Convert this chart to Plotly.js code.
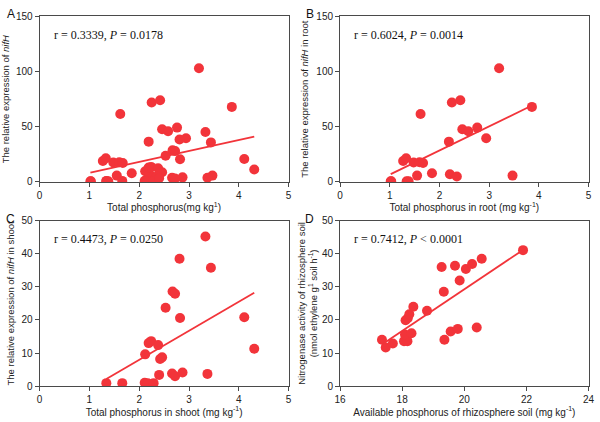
<!DOCTYPE html>
<html>
<head>
<meta charset="utf-8">
<script src="https://cdn.plot.ly/plotly-3.0.1.min.js"></script>
<style>html,body{margin:0;padding:0;background:#fff;}#chart{width:600px;height:422px;}</style>
</head>
<body>
<div id="chart"></div>
<script>
// Panel B: total phosphorus in root vs nifH expression in root
const rootTP   = [1.02, 1.03, 3.20, 2.25, 2.42, 3.86, 1.62, 2.46, 2.58, 2.76, 2.94, 2.19, 1.27, 1.33, 1.48, 1.60, 1.67, 1.85, 1.55, 2.21, 2.35, 3.47, 1.34, 1.38];
const rootNifH = [0.6, 0.6, 103, 72, 74, 68, 61.6, 47.7, 45.9, 49.2, 39.5, 36.5, 19, 21.4, 17.5, 17.8, 17.2, 7.8, 5.7, 6.9, 4.8, 5.7, 0.6, 0.6];
// Panel C: total phosphorus in shoot vs nifH expression in shoot
const shootTP   = [1.34, 1.66, 2.11, 2.17, 2.29, 2.12, 2.19, 2.24, 2.38, 2.46, 2.42, 2.40, 2.66, 2.72, 2.87, 3.37, 2.53, 2.67, 2.72, 2.81, 2.82, 3.33, 3.44, 4.11, 4.31];
const shootNifH = [0.9, 0.9, 1.0, 0.9, 0.9, 9.6, 13, 13.6, 12.4, 8.7, 8.2, 3.4, 3.8, 3.0, 4.1, 3.7, 23.7, 28.6, 27.9, 38.5, 20.6, 45.2, 35.8, 20.8, 11.3];
// Panel A: all samples (root + shoot)
const totalTP   = rootTP.concat(shootTP);
const totalNifH = rootNifH.concat(shootNifH);
// Panel D: available phosphorus vs nitrogenase activity
const availP   = [17.35, 17.47, 17.70, 18.06, 18.17, 18.09, 18.30, 18.11, 18.18, 18.23, 18.36, 18.80, 19.27, 19.34, 19.36, 19.56, 19.70, 19.79, 19.85, 20.05, 20.25, 20.40, 20.56, 21.89];
const nitrogenase = [14.0, 11.7, 12.9, 13.6, 13.6, 15.6, 16.0, 19.9, 20.5, 21.7, 24.0, 22.8, 36.0, 28.5, 14.0, 16.5, 36.4, 17.3, 31.9, 35.4, 36.9, 17.7, 38.5, 41.1];

const statsText = ["r = 0.3339, <i>P</i> = 0.0178", "r = 0.6024, <i>P</i> = 0.0014", "r = 0.4473, <i>P</i> = 0.0250", "r = 0.7412, <i>P</i> < 0.0001"];
const panelLetters = ["A", "B", "C", "D"];

const red = "#f2343a";

function fit(xs, ys) {
  const n = xs.length;
  const mx = xs.reduce((a, b) => a + b, 0) / n;
  const my = ys.reduce((a, b) => a + b, 0) / n;
  let sxy = 0, sxx = 0;
  for (let i = 0; i < n; i++) { sxy += (xs[i] - mx) * (ys[i] - my); sxx += (xs[i] - mx) ** 2; }
  const b = sxy / sxx, a = my - b * mx;
  const x0 = Math.min(...xs), x1 = Math.max(...xs);
  return { x: [x0, x1], y: [a + b * x0, a + b * x1] };
}

const panels = [
  { x: totalTP, y: totalNifH, xa: "x", ya: "y" },
  { x: rootTP, y: rootNifH, xa: "x2", ya: "y2" },
  { x: shootTP, y: shootNifH, xa: "x3", ya: "y3" },
  { x: availP, y: nitrogenase, xa: "x4", ya: "y4" }
];

const traces = [];
panels.forEach(p => {
  const f = fit(p.x, p.y);
  traces.push({ x: f.x, y: f.y, xaxis: p.xa, yaxis: p.ya, mode: "lines", line: { color: red, width: 1.8 }, hoverinfo: "skip" });
  traces.push({ x: p.x, y: p.y, xaxis: p.xa, yaxis: p.ya, mode: "markers", marker: { color: red, size: 10, line: { width: 0 } } });
});

const axCol = "#4a4a4a";
function axis(extra) {
  return Object.assign({
    showline: true, linecolor: axCol, linewidth: 1, mirror: true,
    ticks: "outside", ticklen: 4, tickcolor: axCol, tickwidth: 1,
    showgrid: false, zeroline: false, automargin: false,
    tickfont: { family: "Liberation Sans, Arial", size: 10, color: "#222" },
    fixedrange: true
  }, extra);
}
const titleFont = { family: "Liberation Sans, Arial", size: 10, color: "#222" };
const yTitleFont = { family: "Liberation Sans, Arial", size: 9.5, color: "#222" };

const L = [0.066, 0.481], R = [0.5667, 0.981];
const T = [0.569, 0.961], B = [0.085, 0.477];

const layout = {
  width: 600, height: 422,
  margin: { l: 0, r: 0, t: 0, b: 0 },
  paper_bgcolor: "#fff", plot_bgcolor: "#fff",
  showlegend: false,
  xaxis: axis({ domain: L, anchor: "y", range: [0, 5], dtick: 1, title: { text: "Total phosphorus(mg kg<sup>1</sup>)", font: titleFont, standoff: 4 } }),
  yaxis: axis({ domain: T, anchor: "x", range: [0, 150], dtick: 50, title: { text: "The relative expression of <i>nifH</i>", font: yTitleFont, standoff: 5 } }),
  xaxis2: axis({ domain: R, anchor: "y2", range: [0, 5], dtick: 1, title: { text: "Total phosphorus in root (mg kg<sup>-1</sup>)", font: titleFont, standoff: 4 } }),
  yaxis2: axis({ domain: T, anchor: "x2", range: [0, 150], dtick: 50, title: { text: "The relative expression of <i>nifH</i> in root", font: yTitleFont, standoff: 5 } }),
  xaxis3: axis({ domain: L, anchor: "y3", range: [0, 5], dtick: 1, title: { text: "Total phosphorus in shoot (mg kg<sup>-1</sup>)", font: titleFont, standoff: 4 } }),
  yaxis3: axis({ domain: B, anchor: "x3", range: [0, 50], dtick: 10, title: { text: "The relative expression of <i>nifH</i> in shoot", font: yTitleFont, standoff: 5 } }),
  xaxis4: axis({ domain: R, anchor: "y4", range: [16, 24], dtick: 2, title: { text: "Available phosphorus of rhizosphere soil (mg kg<sup>-1</sup>)", font: titleFont, standoff: 4 } }),
  yaxis4: axis({ domain: B, anchor: "x4", range: [0, 50], dtick: 10, title: { text: "Nitrogenase activity of rhizosphere soil<br>(nmol ethylene g<sup>1</sup> soil h<sup>-1</sup>)", font: yTitleFont, standoff: 2 } }),
  annotations: []
};

const refs = [["x", "y"], ["x2", "y2"], ["x3", "y3"], ["x4", "y4"]];
refs.forEach((r, i) => {
  layout.annotations.push({
    xref: r[0] + " domain", yref: r[1] + " domain", x: 0.05, y: 0.89,
    xanchor: "left", yanchor: "middle", showarrow: false, text: statsText[i],
    font: { family: "Liberation Serif, Times New Roman", size: 12, color: "#111" }
  });
});
const letterPos = [[0.018, 0.966], [0.516, 0.966], [0.018, 0.482], [0.516, 0.482]];
letterPos.forEach((p, i) => {
  layout.annotations.push({
    xref: "paper", yref: "paper", x: p[0], y: p[1], xanchor: "center", yanchor: "middle",
    showarrow: false, text: panelLetters[i],
    font: { family: "Liberation Sans, Arial", size: 12, color: "#111" }
  });
});

Plotly.newPlot("chart", traces, layout, { displayModeBar: false, staticPlot: true });
</script>
</body>
</html>
